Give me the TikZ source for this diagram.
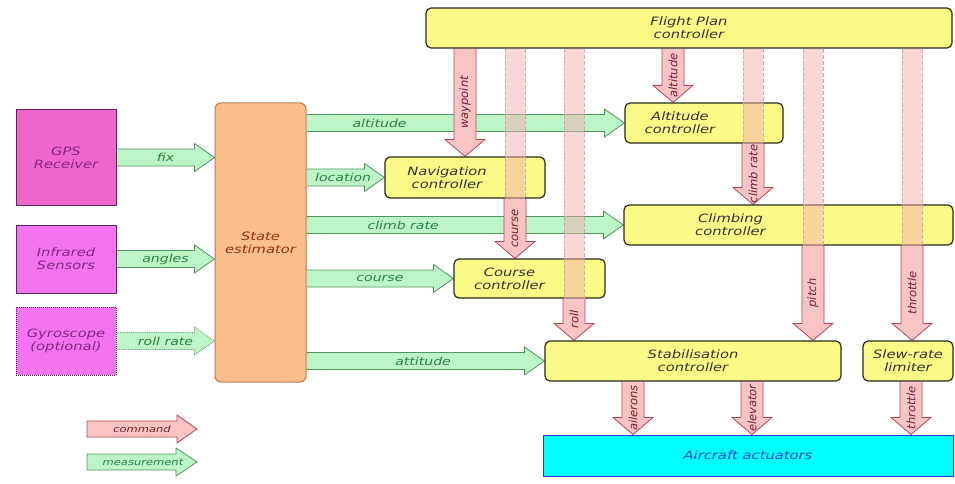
\documentclass[tikz,border=0pt]{standalone}
\usepackage{fontspec}
\setmainfont[FakeStretch=1.28]{DejaVu Sans}
\newfontfamily\vfont{DejaVu Sans}
\usetikzlibrary{calc,backgrounds}
\definecolor{gpsfill}{RGB}{238,102,204}
\definecolor{magfill}{RGB}{242,116,240}
\definecolor{magline}{RGB}{90,40,85}
\definecolor{magtext}{RGB}{130,40,130}
\definecolor{sefill}{RGB}{252,190,140}
\definecolor{seline}{RGB}{190,120,80}
\definecolor{setext}{RGB}{150,50,20}
\definecolor{yfill}{RGB}{250,250,135}
\definecolor{yline}{RGB}{40,40,30}
\definecolor{ytext}{RGB}{50,50,50}
\definecolor{gfill}{RGB}{190,245,200}
\definecolor{gline}{RGB}{80,150,90}
\definecolor{gtext}{RGB}{40,130,60}
\definecolor{rfill}{RGB}{248,196,196}
\definecolor{rline}{RGB}{180,70,90}
\definecolor{rtext}{RGB}{120,30,50}
\definecolor{actfill}{RGB}{0,255,255}
\definecolor{actline}{RGB}{30,60,220}
\definecolor{acttext}{RGB}{30,70,200}
\definecolor{bandc}{RGB}{245,175,175}
\definecolor{bandline}{RGB}{215,170,170}

\newcommand\meas[5][]{%
  \draw[measarrow,#1] let \p1=(#2), \p2=(#3) in
   (\x1,\y2+8.5pt) -- (\x2-20pt,\y2+8.5pt) -- (\x2-20pt,\y2+14pt) -- (\x2,\y2)
   -- (\x2-20pt,\y2-14pt) -- (\x2-20pt,\y2-8.5pt) -- (\x1,\y2-8.5pt)
   ({\x1+(\x2-\x1)*#4},\y2) node[measlabel] {#5};
}
\newcommand\cmd[3]{%
  \draw[cmdarrow] let \p1=(#1), \p2=(#2) in
   (\x1-11pt,\y1) -- (\x1-11pt,\y2+17pt) -- (\x1-20pt,\y2+17pt) -- (\x1,\y2)
   -- (\x1+20pt,\y2+17pt) -- (\x1+11pt,\y2+17pt) -- (\x1+11pt,\y1)
   (\x1,{(\y1+\y2)/2}) node[cmdlabel] {#3};
}
\newcommand\band[2]{%
  \fill[bandfill] let \p1=(#1), \p2=(#2) in (\x1-10pt,\y1) rectangle (\x1+10pt,\y2);
  \draw[bandedge] let \p1=(#1), \p2=(#2) in (\x1-10pt,\y1) -- (\x1-10pt,\y2) (\x1+10pt,\y1) -- (\x1+10pt,\y2);
}

\begin{document}
\begin{tikzpicture}[x=1pt,y=-1pt,
  boxtext/.style={font=\fontsize{11.5}{13}\selectfont\itshape, align=center},
  mbox/.style={boxtext, draw=magline, line width=1pt, fill=magfill, text=magtext,
    minimum width=100pt, minimum height=68pt, inner sep=0pt},
  sebox/.style={boxtext, draw=seline, line width=1pt, fill=sefill, text=setext,
    rounded corners=6pt, inner sep=0pt},
  ybox/.style={boxtext, draw=yline, line width=1.2pt, fill=yfill, text=ytext,
    rounded corners=5pt, inner sep=0pt, minimum height=40pt},
  ylab/.style={boxtext, text=ytext},
  actbox/.style={boxtext, draw=actline, line width=1pt, fill=actfill, text=acttext,
    inner sep=0pt},
  measarrow/.style={draw=gline, line width=0.8pt, fill=gfill},
  measlabel/.style={font=\fontsize{11}{12}\selectfont\itshape, text=gtext, inner sep=0pt},
  cmdarrow/.style={draw=rline, line width=0.8pt, fill=rfill},
  cmdlabel/.style={font=\vfont\fontsize{11.5}{12}\selectfont\itshape, text=rtext, rotate=90, inner sep=0pt},
  bandfill/.style={fill=bandc, opacity=0.5},
  bandedge/.style={draw=bandline, line width=0.8pt, dashed, dash pattern=on 4pt off 2pt},
  leglabel/.style={font=\fontsize{9}{10}\selectfont\itshape, inner sep=0pt}
]
\useasboundingbox (0,0) rectangle (955,484);

% sensors
\node[mbox, fill=gpsfill, minimum height=95pt] (gps) at (66,157.5) {GPS\\Receiver};
\node[mbox] (ir) at (66,259) {Infrared\\Sensors};
\node[mbox, densely dotted] (gyro) at (66,341) {Gyroscope\\(optional)};
\node[sebox, minimum width=91pt, minimum height=279pt] (se) at (260.5,242.5) {State\\estimator};

% controllers
\node[ybox, minimum width=526pt] (fp) at (689,28) {Flight Plan\\controller};
\node[ybox, minimum width=158pt, label={[ylab,xshift=-24pt]center:Altitude\\controller}] (alt) at (704,123) {};
\node[ybox, minimum width=160pt, minimum height=41pt, label={[ylab,xshift=-18pt]center:Navigation\\controller}] (nav) at (465,177.5) {};
\node[ybox, minimum width=329pt, label={[ylab,xshift=-58pt]center:Climbing\\controller}] (clb) at (788.5,225) {};
\node[ybox, minimum width=151pt, minimum height=39pt, label={[ylab,xshift=-20pt]center:Course\\controller}] (crs) at (529.5,278.5) {};
\node[ybox, minimum width=296pt] (stab) at (693,361) {Stabilisation\\controller};
\node[ybox, minimum width=90pt] (slew) at (908,361) {Slew-rate\\limiter};
\node[actbox, minimum width=410pt, minimum height=41pt] (act) at (748,455.5) {Aircraft actuators};

\begin{pgfonlayer}{background}
% measurements
\meas{gps.east}{se.west |- gps.east}{0.5}{fix}
\meas{ir.east}{se.west |- ir.east}{0.5}{angles}
\meas[densely dotted]{gyro.east}{se.west |- gyro.east}{0.5}{roll rate}
\meas{se.east}{alt.west}{0.23}{altitude}
\meas{se.east}{nav.west}{0.47}{location}
\meas{se.east}{clb.west}{0.305}{climb rate}
\meas{se.east}{crs.west}{0.5}{course}
\meas{se.east}{stab.west}{0.49}{attitude}
% commands
\cmd{fp.south -| 465,0}{nav.north -| 465,0}{waypoint}
\cmd{fp.south -| 673,0}{alt.north -| 673,0}{altitude}
\cmd{alt.south -| 753,0}{clb.north -| 753,0}{climb rate}
\cmd{nav.south -| 515,0}{crs.north -| 515,0}{course}
\cmd{crs.south -| 574,0}{stab.north -| 574,0}{roll}
\cmd{clb.south -| 813,0}{stab.north -| 813,0}{pitch}
\cmd{clb.south -| 912,0}{slew.north -| 912,0}{throttle}
\cmd{stab.south -| 633,0}{act.north -| 633,0}{ailerons}
\cmd{stab.south -| 752,0}{act.north -| 752,0}{elevator}
\cmd{slew.south -| 911,0}{act.north -| 911,0}{throttle}
\end{pgfonlayer}

% pass-through bands
\band{fp.south -| 515,0}{nav.south -| 515,0}
\band{fp.south -| 574,0}{crs.south -| 574,0}
\band{fp.south -| 753,0}{alt.south -| 753,0}
\band{fp.south -| 813,0}{clb.south -| 813,0}
\band{fp.south -| 912,0}{clb.south -| 912,0}

% legend
\draw[cmdarrow] (87,421) -- (177,421) -- (177,415) -- (197,429) -- (177,443) -- (177,437) -- (87,437) -- cycle;
\node[leglabel, text=rtext] (lcmd) at (142,429) {command};
\draw[measarrow] (87,454) -- (176,454) -- (176,448) -- (197,462) -- (176,476) -- (176,470) -- (87,470) -- cycle;
\node[leglabel, text=gtext] (lmeas) at (143,462) {measurement};
\end{tikzpicture}
\end{document}
